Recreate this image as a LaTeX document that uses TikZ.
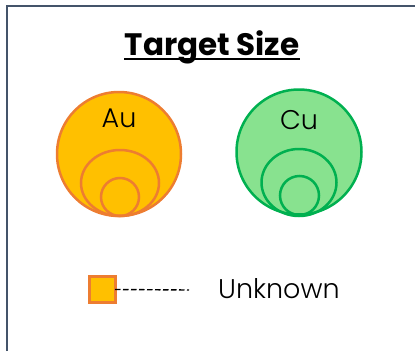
\documentclass[tikz,border=0pt]{standalone}
\usepackage{fontspec}
\setmainfont{Poppins}
\newfontfamily\poplight{Poppins Light}
\usetikzlibrary{shapes.geometric}
\definecolor{frameblue}{HTML}{44546A}
\definecolor{gold}{HTML}{FFC000}
\definecolor{orangeline}{HTML}{ED7D31}
\definecolor{lightgreen}{HTML}{88E28F}
\definecolor{greenline}{HTML}{00B050}
\tikzset{
  frameline/.style={draw=frameblue,line width=2pt},
  ring/.style={circle,inner sep=0pt,outer sep=0pt,line width=2.5pt},
  oval/.style={ellipse,inner sep=0pt,outer sep=0pt,line width=2.5pt},
  aubig/.style={fill=gold,draw=orangeline},
  aus/.style={draw=orangeline},
  cubig/.style={fill=lightgreen,draw=greenline},
  cus/.style={draw=greenline},
  lbl/.style={font=\poplight\fontsize{27}{30}\selectfont,inner sep=0pt},
}
\begin{document}
\begin{tikzpicture}[x=1pt,y=-1pt]
\useasboundingbox (0,0) rectangle (415,351);
\coordinate (fbl) at (6.5,351);
\coordinate (ftl) at (6.5,5.5);
\coordinate (ftr) at (415,5.5);
\draw[frameline] (fbl) -- (ftl) -- (ftr);
\node[inner sep=0pt,font=\bfseries\fontsize{31}{34}\selectfont] (title) at (212,47) {Target Size};
\draw[line width=1.6pt] ([yshift=-4pt]title.base west) -- ([yshift=-4pt]title.base east);
% Au
\node[ring,aubig,minimum size=124pt] (au) at (119,154) {};
\node[oval,aus,minimum width=78pt,minimum height=66pt] (aum) at (120,183) {};
\node[ring,aus,minimum size=38pt] (aus) at (120,197) {};
\node[lbl] (aulbl) at (119,118) {Au};
% Cu
\node[ring,cubig,minimum size=125pt] (cu) at (299,152) {};
\node[oval,cus,minimum width=75pt,minimum height=67pt] (cum) at (299,182.5) {};
\node[ring,cus,minimum size=39pt] (cus) at (299.5,195.5) {};
\node[lbl] (culbl) at (299,120) {Cu};
% legend
\node[rectangle,fill=gold,draw=orangeline,line width=3pt,minimum size=26pt,inner sep=0pt,outer sep=0pt] (sq) at (102,289.5) {};
\coordinate (dend) at (189,290);
\draw[line width=1.4pt,dash pattern=on 5.5pt off 2.5pt] (sq.east) -- (dend);
\node[lbl,anchor=west] (unk) at (218,289) {Unknown};
\end{tikzpicture}
\end{document}
